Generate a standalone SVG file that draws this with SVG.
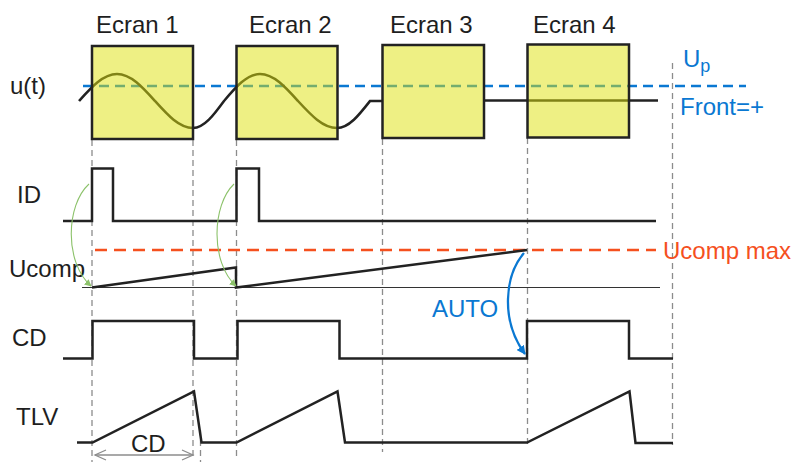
<svg xmlns="http://www.w3.org/2000/svg" width="799" height="462" viewBox="0 0 799 462">
<defs>
<style>
text{font-family:"Liberation Sans",Arial,sans-serif;font-size:24px;fill:#1e1e1e}
.blue{fill:#0a78d2}
.orange{fill:#f5501e}
.sig{fill:none;stroke:#222;stroke-width:2.5;stroke-linejoin:miter}
.thin{fill:none;stroke:#333;stroke-width:1}
.vdash{fill:none;stroke:#8c8c8c;stroke-width:1.3;stroke-dasharray:6 4}
.screen{fill:rgb(221,225,10);fill-opacity:0.5;stroke:#222;stroke-width:2.5}
.green{fill:none;stroke:#8cc26a;stroke-width:1.1}
</style>
<marker id="gArrow" viewBox="0 0 10 10" refX="9" refY="5" markerWidth="7" markerHeight="7" markerUnits="userSpaceOnUse" orient="auto"><path d="M0,0 L10,5 L0,10 z" fill="#8cc26a"/></marker>
<marker id="bArrow" viewBox="0 0 10 10" refX="9" refY="5" markerWidth="9" markerHeight="9" markerUnits="userSpaceOnUse" orient="auto"><path d="M0,0 L10,5 L0,10 z" fill="#0a78d2"/></marker>
</defs>
<rect width="799" height="462" fill="#fff"/>

<g id="guides">
<line class="vdash" x1="92" y1="140" x2="92" y2="462"/>
<line class="vdash" x1="193" y1="140" x2="193" y2="458"/>
<line class="vdash" x1="200.5" y1="430" x2="200.5" y2="462"/>
<line class="vdash" x1="236.5" y1="140" x2="236.5" y2="458"/>
<line class="vdash" x1="382.5" y1="139" x2="382.5" y2="452"/>
<line class="vdash" x1="527.5" y1="138" x2="527.5" y2="448"/>
<line class="vdash" x1="672.5" y1="63" x2="672.5" y2="445"/>
</g>

<g id="threshold-up">
<line x1="83" y1="86" x2="746" y2="86" fill="none" stroke="#0a78d2" stroke-width="2.5" stroke-dasharray="10 6"/>
<text class="blue" x="683" y="67">U<tspan font-size="18" dy="5">p</tspan></text>
<text class="blue" x="680" y="115">Front=+</text>
</g>

<g id="signal-u">
<text x="10" y="94">u(t)</text>
<path class="sig" d="M79,101 C91.4,87.2 103.2,74 117,74 C130.8,74 142.6,87.2 155,101 C167.4,114.8 179.2,128 193,128 C204.2,128 213.9,114.8 224,101 C235.7,87.2 247,74 260,74 C273.8,74 285.6,87.2 298,101 C310.7,114.8 322.9,128 337,128 C348.9,128 359.2,114.8 370,101 L382,101"/>
<line class="sig" x1="484" y1="100.5" x2="658" y2="100.5"/>
</g>

<g id="ecran1">
<rect class="screen" x="92" y="46" width="101" height="93"/>
<text x="96" y="33">Ecran 1</text>
</g>
<g id="ecran2">
<rect class="screen" x="236.5" y="46" width="101" height="93"/>
<text x="249" y="33">Ecran 2</text>
</g>
<g id="ecran3">
<rect class="screen" x="382.5" y="45" width="101.5" height="93"/>
<text x="390" y="33">Ecran 3</text>
</g>
<g id="ecran4">
<rect class="screen" x="527.5" y="44.5" width="101.5" height="93"/>
<text x="533" y="33">Ecran 4</text>
</g>

<g id="signal-id">
<text x="17" y="203">ID</text>
<path class="sig" d="M63,221 H92 V168.5 H113 V221 H236.5 V168.5 H259 V221 H656"/>
</g>

<g id="signal-ucomp">
<text x="9" y="277">Ucomp</text>
<line x1="95" y1="250" x2="656" y2="250" fill="none" stroke="#f5501e" stroke-width="2.5" stroke-dasharray="12 7"/>
<text class="orange" x="663" y="259">Ucomp max</text>
<line class="thin" x1="82" y1="287.5" x2="660" y2="287.5"/>
<path class="sig" d="M92,287.5 L236,267.5 V287.5 L527,250"/>
</g>

<g id="signal-cd">
<text x="12" y="346">CD</text>
<path class="sig" d="M63,358.5 H92.5 V321 H194 V358.5 H237.5 V321 H339.5 V358.5 H527 V321 H629 V358.5 H673"/>
</g>

<g id="signal-tlv">
<text x="16" y="425">TLV</text>
<path class="sig" d="M77,442.5 H92.5 L194,391.5 L201.5,442.5 H236.5 L337.5,391.5 L345,442.5 H527 L629.5,391.5 L635.5,443 H673"/>
</g>

<g id="cd-dimension">
<line x1="95" y1="455" x2="193" y2="455" stroke="#8c8c8c" stroke-width="1.3"/>
<polyline points="106,450 95,455 106,460" fill="none" stroke="#8c8c8c" stroke-width="1.3"/>
<polyline points="182,450 193,455 182,460" fill="none" stroke="#8c8c8c" stroke-width="1.3"/>
<text x="131" y="452">CD</text>
</g>

<g id="connectors">
<path class="green" d="M89,184 C66,205 64,262 91,286" marker-end="url(#gArrow)"/>
<path class="green" d="M234,184 C212,205 210,262 236,286" marker-end="url(#gArrow)"/>
<path d="M524,253 C505,275 500,320 525,354" fill="none" stroke="#0a78d2" stroke-width="2.3" marker-end="url(#bArrow)"/>
<text class="blue" x="432" y="317">AUTO</text>
</g>
</svg>
